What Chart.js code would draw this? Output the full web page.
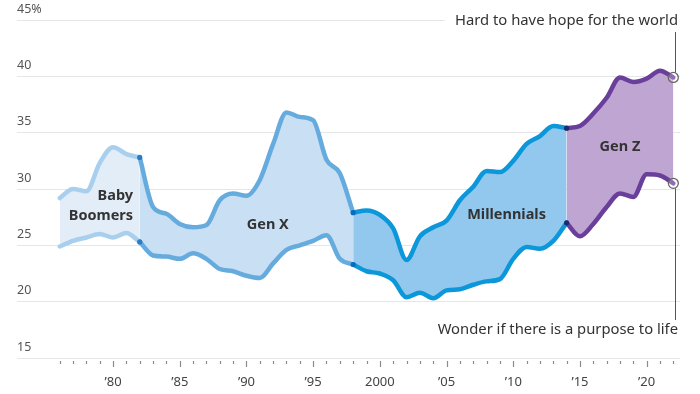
<!DOCTYPE html>
<html>
<head>
<meta charset="utf-8">
<script src="https://cdn.jsdelivr.net/npm/chart.js@4.4.0/dist/chart.umd.min.js"></script>
<style>
  html, body { margin: 0; padding: 0; background: #fff; }
  #wrap { width: 700px; height: 394px; position: relative; }
</style>
</head>
<body>
<div id="wrap"><canvas id="chart"></canvas></div>
<script>
const years = [];
for (let y = 1976; y <= 2022; y++) years.push(y);

// share saying it's hard to have hope for the world
const hopeless = [
  29.2, 30.0, 29.8, 32.3, 33.7, 33.1, 32.8, 28.4, 27.8, 26.9,
  26.6, 26.8, 29.0, 29.6, 29.4, 30.8, 34.0, 36.8, 36.4, 36.1,
  32.6, 31.4, 27.9, 28.1, 27.7, 26.5, 23.7, 25.8, 26.6, 27.2,
  29.0, 30.2, 31.6, 31.5, 32.5, 34.0, 34.7, 35.6, 35.4, 35.6,
  36.7, 38.1, 39.9, 39.5, 39.8, 40.5, 39.9
];

// share that wonder if there is a purpose to life
const purpose = [
  24.9, 25.4, 25.7, 26.0, 25.7, 26.1, 25.3, 24.1, 24.0, 23.8,
  24.3, 23.8, 22.9, 22.7, 22.3, 22.1, 23.4, 24.6, 25.0, 25.4,
  25.9, 23.8, 23.3, 22.7, 22.5, 21.9, 20.4, 20.8, 20.3, 21.0,
  21.1, 21.5, 21.8, 22.0, 23.8, 24.85, 24.7, 25.4, 27.0, 25.8,
  26.9, 28.4, 29.6, 29.3, 31.3, 31.2, 30.5
];

const generations = ['Baby Boomers', 'Gen X', 'Millennials', 'Gen Z'];
const genStart = [1976, 1982, 1998, 2014];
const genEnd = [1982, 1998, 2014, 2022];
const yTicks = [15, 20, 25, 30, 35, 40, 45];

const lineColors = ['#a9cfee', '#66abde', '#0b97d9', '#6a3f9b'];
const fillColors = ['#e2edf8', '#c8dff4', '#93c8ee', '#bea5d2'];
const joinColors = [null, '#2a7cc4', '#0a6cbf', '#1c2a6e'];

function segment(values, g) {
  const pts = [];
  years.forEach((yr, i) => {
    if (yr >= genStart[g] && yr <= genEnd[g]) pts.push({ x: yr, y: values[i] });
  });
  return pts;
}

function pointStyle(g) {
  const last = generations.length - 1;
  return {
    pointRadius: ctx => {
      if (g === last && ctx.dataIndex === ctx.dataset.data.length - 1) return 5;
      if (g > 0 && ctx.dataIndex === 0) return 2.6;
      return 0;
    },
    pointBackgroundColor: ctx => ctx.dataIndex === 0 ? joinColors[g] : 'rgba(255,255,255,0.25)',
    pointBorderColor: ctx => ctx.dataIndex === 0 ? joinColors[g] : '#666',
    pointBorderWidth: ctx => ctx.dataIndex === 0 ? 0 : 1.3
  };
}

const datasets = [];
for (let g = generations.length - 1; g >= 0; g--) {
  datasets.push(Object.assign({
    label: generations[g] + ' hope',
    data: segment(hopeless, g),
    borderColor: lineColors[g],
    backgroundColor: fillColors[g],
    borderWidth: 4.5,
    borderCapStyle: 'round',
    borderJoinStyle: 'round',
    cubicInterpolationMode: 'monotone',
    fill: '+1'
  }, pointStyle(g)));
  datasets.push(Object.assign({
    label: generations[g] + ' purpose',
    data: segment(purpose, g),
    borderColor: lineColors[g],
    backgroundColor: fillColors[g],
    borderWidth: 4.5,
    borderCapStyle: 'round',
    borderJoinStyle: 'round',
    cubicInterpolationMode: 'monotone',
    fill: false
  }, pointStyle(g)));
}

const fontFamily = '"Noto Sans", "DejaVu Sans", sans-serif';

// axis text drawn by hand: y labels just above their gridlines, x ticks below the plot
const axisMarks = {
  id: 'axisMarks',
  afterDraw(chart) {
    const ctx = chart.ctx;
    const xs = chart.scales.x;
    const ys = chart.scales.y;
    const base = chart.chartArea.bottom;
    ctx.save();
    ctx.strokeStyle = '#8a8a8a';
    ctx.lineWidth = 1.2;
    years.forEach(yr => {
      const px = Math.round(xs.getPixelForValue(yr)) + 0.5;
      ctx.beginPath();
      ctx.moveTo(px, base + 3);
      ctx.lineTo(px, base + (yr % 5 === 0 ? 9 : 6));
      ctx.stroke();
    });
    ctx.fillStyle = '#444';
    ctx.font = '13px ' + fontFamily;
    ctx.textAlign = 'center';
    ctx.textBaseline = 'middle';
    years.filter(yr => yr % 5 === 0).forEach(yr => {
      const txt = yr === 2000 ? '2000' : '\u2019' + String(yr).slice(2);
      ctx.fillText(txt, xs.getPixelForValue(yr), base + 24);
    });
    ctx.fillStyle = '#555';
    ctx.font = '12.5px ' + fontFamily;
    ctx.textAlign = 'left';
    yTicks.forEach(v => {
      ctx.fillText(v === 45 ? '45%' : String(v), chart.chartArea.left, ys.getPixelForValue(v) - 11);
    });
    ctx.restore();
  }
};

// generation names, end labels and the leader line on the right
const annotations = {
  id: 'annotations',
  afterDatasetsDraw(chart) {
    const ctx = chart.ctx;
    const xs = chart.scales.x;
    const ys = chart.scales.y;
    const lastX = xs.getPixelForValue(years[years.length - 1]);
    const topY = ys.getPixelForValue(hopeless[hopeless.length - 1]);
    const lowY = ys.getPixelForValue(purpose[purpose.length - 1]);
    const lx = Math.round(lastX) + 2.5;
    ctx.save();

    // white box behind the top label hides the 45 gridline
    ctx.fillStyle = '#fff';
    ctx.fillRect(445, 8, 255, 26);

    ctx.strokeStyle = '#555';
    ctx.lineWidth = 1;
    ctx.beginPath();
    ctx.moveTo(lx, 32);
    ctx.lineTo(lx, topY - 5);
    ctx.moveTo(lx, lowY + 5);
    ctx.lineTo(lx, 320);
    ctx.stroke();

    ctx.fillStyle = '#333';
    ctx.font = '14.8px ' + fontFamily;
    ctx.textAlign = 'right';
    ctx.textBaseline = 'middle';
    ctx.fillText('Hard to have hope for the world', 678, 21);
    ctx.fillText('Wonder if there is a purpose to life', 678, 330);

    ctx.font = 'bold 14.5px ' + fontFamily;
    ctx.textAlign = 'right';
    ctx.fillText('Baby', xs.getPixelForValue(1981.5), ys.getPixelForValue(29.4));
    ctx.fillText('Boomers', xs.getPixelForValue(1981.5), ys.getPixelForValue(27.6));
    ctx.textAlign = 'center';
    ctx.fillText('Gen X', xs.getPixelForValue(1991.6), ys.getPixelForValue(26.8));
    ctx.fillText('Millennials', xs.getPixelForValue(2009.5), ys.getPixelForValue(27.7));
    ctx.fillText('Gen Z', xs.getPixelForValue(2018.0), ys.getPixelForValue(33.7));
    ctx.restore();
  }
};

new Chart(document.getElementById('chart'), {
  type: 'line',
  data: { datasets: datasets },
  options: {
    responsive: true,
    maintainAspectRatio: false,
    animation: false,
    layout: { padding: { left: 17, right: 20, top: 20, bottom: 36 } },
    plugins: {
      legend: { display: false },
      tooltip: { enabled: false },
      filler: { drawTime: 'beforeDatasetsDraw' }
    },
    scales: {
      x: {
        type: 'linear',
        min: 1972.8,
        max: 2022.5,
        afterBuildTicks: scale => { scale.ticks = years.map(v => ({ value: v })); },
        grid: { display: false, drawTicks: false },
        border: { display: false },
        ticks: { display: false }
      },
      y: {
        min: 15,
        max: 45,
        afterBuildTicks: scale => { scale.ticks = yTicks.map(v => ({ value: v })); },
        grid: { color: '#e6e6e6', lineWidth: 1, drawTicks: false },
        border: { display: false },
        ticks: { display: false }
      }
    }
  },
  plugins: [axisMarks, annotations]
});
</script>
</body>
</html>
